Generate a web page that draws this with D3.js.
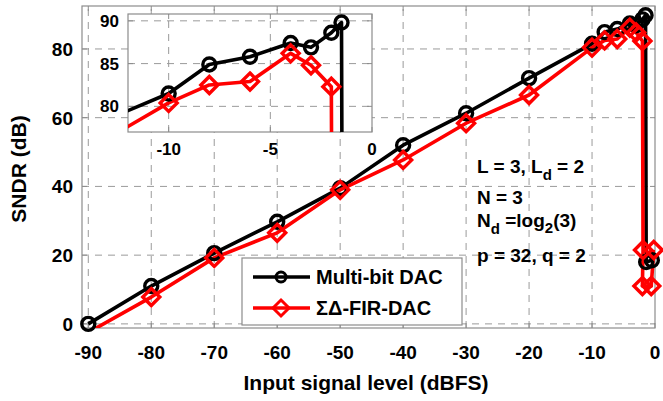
<!DOCTYPE html>
<html>
<head>
<meta charset="utf-8">
<script src="https://cdn.jsdelivr.net/npm/d3@7"></script>
<style>
  body { margin: 0; background: #fff; }
  text { font-family: "Liberation Sans", Arial, sans-serif; font-weight: bold; fill: #000; }
</style>
</head>
<body>
<svg id="chart" width="663" height="401"></svg>
<script>
// SNDR vs input level, multi-bit DAC vs sigma-delta FIR DAC

var mbX = [-90, -80, -70, -60, -50, -40, -30, -20, -10, -8, -6, -4, -3, -2, -1.5, -1.4, -0.5];
var mbY = [0, 11, 20.6, 29.7, 39.5, 52, 61.3, 71.5, 81.5, 84.9, 85.8, 87.4, 86.9, 88.6, 89.8, 18, 18.5];

var sdX = [-90, -80, -70, -60, -50, -40, -30, -20, -10, -8, -6, -4, -3, -2, -1.9, -2, -0.6, -0.2];
var sdY = [-2.5, 7.8, 19.2, 26.5, 39, 47.7, 58.4, 66.6, 80.4, 82.5, 82.9, 86.2, 84.8, 82.3, 21.5, 11, 11, 21.5];

var xTicks = [-90, -80, -70, -60, -50, -40, -30, -20, -10, 0];
var yTicks = [0, 20, 40, 60, 80];
var insetXTicks = [-10, -5, 0];
var insetYTicks = [80, 85, 90];

var legendNames = ["Multi-bit DAC", "\u03A3\u0394-FIR-DAC"];

var svg = d3.select("#chart");

var x = d3.scaleLinear().domain([-91, 0]).range([82, 655]);
var y = d3.scaleLinear().domain([-1.2, 92.5]).range([328, 6]);

var xi = d3.scaleLinear().domain([-12, 0]).range([128, 372]);
var yi = d3.scaleLinear().domain([77, 90.8]).range([132, 14]);

var gridCol = "#9a9a9a", boxCol = "#8c8c8c";

function series(xs, ys) {
  return xs.map(function(d, i) { return { x: d, y: ys[i] }; });
}
var mb = series(mbX, mbY);
var sd = series(sdX, sdY);

function diamondPath(r) {
  return "M0," + (-r) + "L" + r + ",0L0," + r + "L" + (-r) + ",0Z";
}

// draws one set of axes: grid, box, ticks, two series
function drawAxes(g, sx, sy, xt, yt, id, fontSize, xLabY) {
  var x0 = sx.range()[0], x1 = sx.range()[1];
  var y0 = sy.range()[0], y1 = sy.range()[1];

  g.append("rect")
    .attr("x", x0).attr("y", y1)
    .attr("width", x1 - x0).attr("height", y0 - y1)
    .attr("fill", "#fff");

  g.append("clipPath").attr("id", id)
    .append("rect")
    .attr("x", x0).attr("y", y1)
    .attr("width", x1 - x0).attr("height", y0 - y1);

  // grid
  g.selectAll(".vg").data(xt.filter(function(d){ return sx(d) > x0 + 1 && sx(d) < x1 - 1; }))
    .enter().append("line")
    .attr("x1", function(d){ return sx(d); }).attr("x2", function(d){ return sx(d); })
    .attr("y1", y0).attr("y2", y1)
    .attr("stroke", gridCol).attr("stroke-width", 1).attr("stroke-dasharray", "7,6");

  g.selectAll(".hg").data(yt.filter(function(d){ return sy(d) < y0 - 1 && sy(d) > y1 + 1; }))
    .enter().append("line")
    .attr("y1", function(d){ return sy(d); }).attr("y2", function(d){ return sy(d); })
    .attr("x1", x0).attr("x2", x1)
    .attr("stroke", gridCol).attr("stroke-width", 1).attr("stroke-dasharray", "7,6");

  // tick marks inside, all four sides
  xt.forEach(function(d) {
    var px = sx(d);
    g.append("line").attr("x1", px).attr("x2", px).attr("y1", y0).attr("y2", y0 - 5).attr("stroke", boxCol);
    g.append("line").attr("x1", px).attr("x2", px).attr("y1", y1).attr("y2", y1 + 5).attr("stroke", boxCol);
  });
  yt.forEach(function(d) {
    var py = sy(d);
    g.append("line").attr("y1", py).attr("y2", py).attr("x1", x0).attr("x2", x0 + 5).attr("stroke", boxCol);
    g.append("line").attr("y1", py).attr("y2", py).attr("x1", x1).attr("x2", x1 - 5).attr("stroke", boxCol);
  });

  g.append("rect")
    .attr("x", x0).attr("y", y1)
    .attr("width", x1 - x0).attr("height", y0 - y1)
    .attr("fill", "none").attr("stroke", boxCol).attr("stroke-width", 1.2);

  // tick labels
  g.selectAll(".xl").data(xt).enter().append("text")
    .attr("x", function(d){ return sx(d); })
    .attr("y", xLabY)
    .attr("text-anchor", "middle")
    .style("font-size", fontSize + "px")
    .text(function(d){ return d; });

  g.selectAll(".yl").data(yt).enter().append("text")
    .attr("x", x0 - 9)
    .attr("y", function(d){ return sy(d); })
    .attr("dy", "0.36em")
    .attr("text-anchor", "end")
    .style("font-size", fontSize + "px")
    .text(function(d){ return d; });

  var line = d3.line().x(function(d){ return sx(d.x); }).y(function(d){ return sy(d.y); });
  var plot = g.append("g").attr("clip-path", "url(#" + id + ")");

  function inside(d) {
    var dx = sx.domain(), dy = sy.domain();
    return d.x >= dx[0] && d.x <= dx[1] && d.y >= dy[0] && d.y <= dy[1];
  }

  plot.append("path").datum(mb).attr("d", line)
    .attr("fill", "none").attr("stroke", "#000").attr("stroke-width", 3.6).attr("stroke-linejoin", "round");
  plot.append("path").datum(sd).attr("d", line)
    .attr("fill", "none").attr("stroke", "#ff0000").attr("stroke-width", 3.6).attr("stroke-linejoin", "round");

  g.selectAll(".mbm").data(mb.filter(inside)).enter().append("circle")
    .attr("cx", function(d){ return sx(d.x); })
    .attr("cy", function(d){ return sy(d.y); })
    .attr("r", 6.5)
    .attr("fill", "none").attr("stroke", "#000").attr("stroke-width", 3.4);

  g.selectAll(".sdm").data(sd.filter(inside)).enter().append("path")
    .attr("transform", function(d){ return "translate(" + sx(d.x) + "," + sy(d.y) + ")"; })
    .attr("d", diamondPath(8.5))
    .attr("fill", "none").attr("stroke", "#ff0000").attr("stroke-width", 3.4);
}

var main = svg.append("g");
drawAxes(main, x, y, xTicks, yTicks, "clipMain", 19, 359);

// axis titles
svg.append("text")
  .attr("x", 366).attr("y", 390)
  .attr("text-anchor", "middle")
  .style("font-size", "21px")
  .text("Input signal level (dBFS)");

svg.append("text")
  .attr("transform", "translate(26,169) rotate(-90)")
  .attr("text-anchor", "middle")
  .style("font-size", "21px")
  .text("SNDR (dB)");

// parameter notes
var notes = svg.append("g").style("font-size", "19px");
var t1 = notes.append("text").attr("x", 477).attr("y", 173);
t1.append("tspan").text("L = 3, L");
t1.append("tspan").attr("dy", 7).style("font-size", "15px").text("d");
t1.append("tspan").attr("dy", -7).text(" = 2");

notes.append("text").attr("x", 477).attr("y", 204).text("N = 3");

var t3 = notes.append("text").attr("x", 477).attr("y", 227);
t3.append("tspan").text("N");
t3.append("tspan").attr("dy", 7).style("font-size", "15px").text("d");
t3.append("tspan").attr("dy", -7).text(" =log");
t3.append("tspan").attr("dy", 6).style("font-size", "15px").text("2");
t3.append("tspan").attr("dy", -6).text("(3)");

notes.append("text").attr("x", 477).attr("y", 262).text("p = 32, q = 2");

// legend
var leg = svg.append("g");
leg.append("rect")
  .attr("x", 242).attr("y", 258).attr("width", 220).attr("height", 67)
  .attr("fill", "#fff").attr("stroke", boxCol).attr("stroke-width", 1.2);

var legColors = ["#000", "#ff0000"];
legendNames.forEach(function(name, i) {
  var ly = 277 + i * 31;
  leg.append("line").attr("x1", 253).attr("x2", 310).attr("y1", ly).attr("y2", ly)
    .attr("stroke", legColors[i]).attr("stroke-width", 3.6);
  if (i == 0) {
    leg.append("circle").attr("cx", 281).attr("cy", ly).attr("r", 5)
      .attr("fill", "none").attr("stroke", "#000").attr("stroke-width", 3);
  } else {
    leg.append("path").attr("transform", "translate(281," + ly + ")").attr("d", diamondPath(8))
      .attr("fill", "none").attr("stroke", "#ff0000").attr("stroke-width", 3);
  }
  leg.append("text").attr("x", 316).attr("y", ly).attr("dy", "0.36em")
    .style("font-size", "20px").text(name);
});

// zoomed inset
var inset = svg.append("g");
drawAxes(inset, xi, yi, insetXTicks, insetYTicks, "clipInset", 17, 155);
</script>
</body>
</html>
